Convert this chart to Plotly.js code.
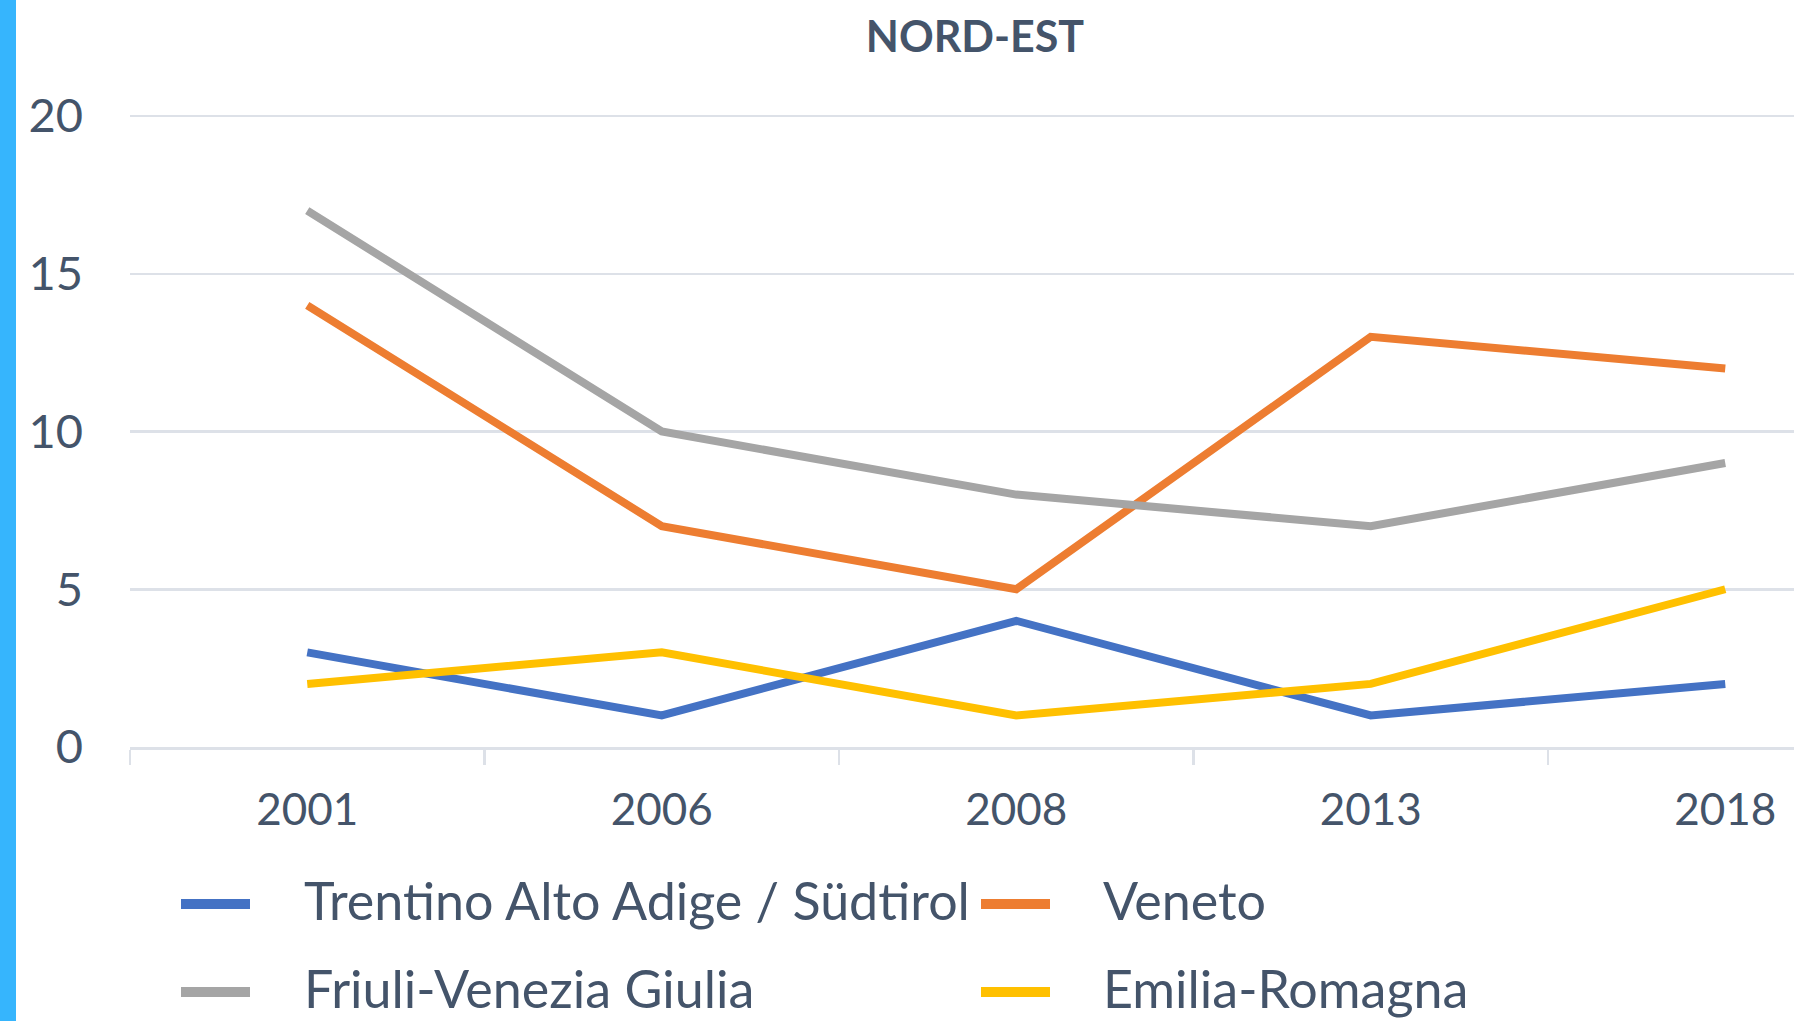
<!DOCTYPE html>
<html>
<head>
<meta charset="utf-8">
<script src="https://cdn.plot.ly/plotly-3.0.1.min.js"></script>
<style>
  html, body { margin: 0; padding: 0; background: #ffffff; overflow: hidden; }
  #chart { width: 1794px; height: 1021px; }
</style>
</head>
<body>
<div id="chart"></div>
<script>
// ---- data ----
const years = ['2001', '2006', '2008', '2013', '2018'];
const trentino = [3, 1, 4, 1, 2];
const veneto = [14, 7, 5, 13, 12];
const friuli = [17, 10, 8, 7, 9];
const emilia = [2, 3, 1, 2, 5];
const seriesNames = ['Trentino Alto Adige / Südtirol', 'Veneto', 'Friuli-Venezia Giulia', 'Emilia-Romagna'];
const seriesValues = [trentino, veneto, friuli, emilia];
const seriesColors = ['#4472C4', '#ED7D31', '#A5A5A5', '#FFC000'];
const chartTitle = 'NORD-EST';

// ---- layout geometry (px) ----
const W = 1794, H = 1021;
const plotL = 130, plotR = 1794, plotT = 114, plotB = 747;
const unitPx = 31.55;           // px per y unit
const catWidth = 354.5;
const pw = plotR - plotL, ph = plotB - plotT;
const yTop = ph / unitPx;       // a hair above 20 so the 20 gridline is drawn
const px2x = p => (p - plotL) / pw;
const px2y = p => (plotB - p) / ph;

const textColor = '#44546A';
const gridColor = '#DDE1E8';
const fontFamily = 'Lato, "Open Sans", sans-serif';

const traces = seriesNames.map((name, i) => ({
  type: 'scatter',
  mode: 'lines',
  name: name,
  x: years,
  y: seriesValues[i],
  line: { color: seriesColors[i], width: 8 },
  showlegend: false,
  hoverinfo: 'skip'
}));

// manual legend (2 columns)
const legSymX = [181, 981];
const legSymLen = 69;
const legTextX = [302, 1101];
const legRowY = [904, 992];
const shapes = [];
const annotations = [];
seriesNames.forEach((name, i) => {
  const col = i % 2, row = Math.floor(i / 2);
  shapes.push({
    type: 'line', xref: 'paper', yref: 'paper',
    x0: px2x(legSymX[col]), x1: px2x(legSymX[col] + legSymLen),
    y0: px2y(legRowY[row]), y1: px2y(legRowY[row]),
    line: { color: seriesColors[i], width: 10 }
  });
  annotations.push({
    xref: 'paper', yref: 'paper',
    x: px2x(legTextX[col]), y: px2y(legRowY[row] - 4),
    xanchor: 'left', yanchor: 'middle',
    text: name, showarrow: false,
    font: { family: fontFamily, size: 52, color: textColor }
  });
});

// left accent bar
shapes.push({
  type: 'rect', xref: 'paper', yref: 'paper', layer: 'above',
  x0: px2x(0), x1: px2x(16), y0: px2y(H), y1: px2y(0),
  fillcolor: '#36B5FD', line: { width: 0 }
});

const layout = {
  width: W, height: H,
  margin: { l: plotL, r: W - plotR, t: plotT, b: H - plotB, pad: 0 },
  paper_bgcolor: '#ffffff', plot_bgcolor: '#ffffff',
  showlegend: false,
  title: {
    text: '<b>' + chartTitle + '</b>',
    font: { family: fontFamily, size: 43, color: textColor },
    xref: 'container', yref: 'container',
    x: 975 / W, xanchor: 'center',
    y: 1 - 37 / H, yanchor: 'middle'
  },
  xaxis: {
    type: 'category',
    range: [-0.5, -0.5 + pw / catWidth],
    tickson: 'boundaries',
    ticks: 'outside', ticklen: 15, tickwidth: 2.5, tickcolor: gridColor,
    showline: true, linecolor: gridColor, linewidth: 2.5,
    showgrid: false, zeroline: false,
    tickfont: { family: fontFamily, size: 44, color: textColor },
    ticklabelstandoff: 23,
    automargin: false,
    fixedrange: true
  },
  yaxis: {
    range: [0, yTop], dtick: 5, tick0: 0,
    showgrid: true, gridcolor: gridColor, gridwidth: 2.5,
    zeroline: false, showline: false, ticks: '',
    tickfont: { family: fontFamily, size: 47, color: textColor },
    ticklabelstandoff: 46,
    automargin: false,
    fixedrange: true
  },
  shapes: shapes,
  annotations: annotations
};

Plotly.newPlot('chart', traces, layout, { displayModeBar: false, staticPlot: true });
</script>
</body>
</html>
